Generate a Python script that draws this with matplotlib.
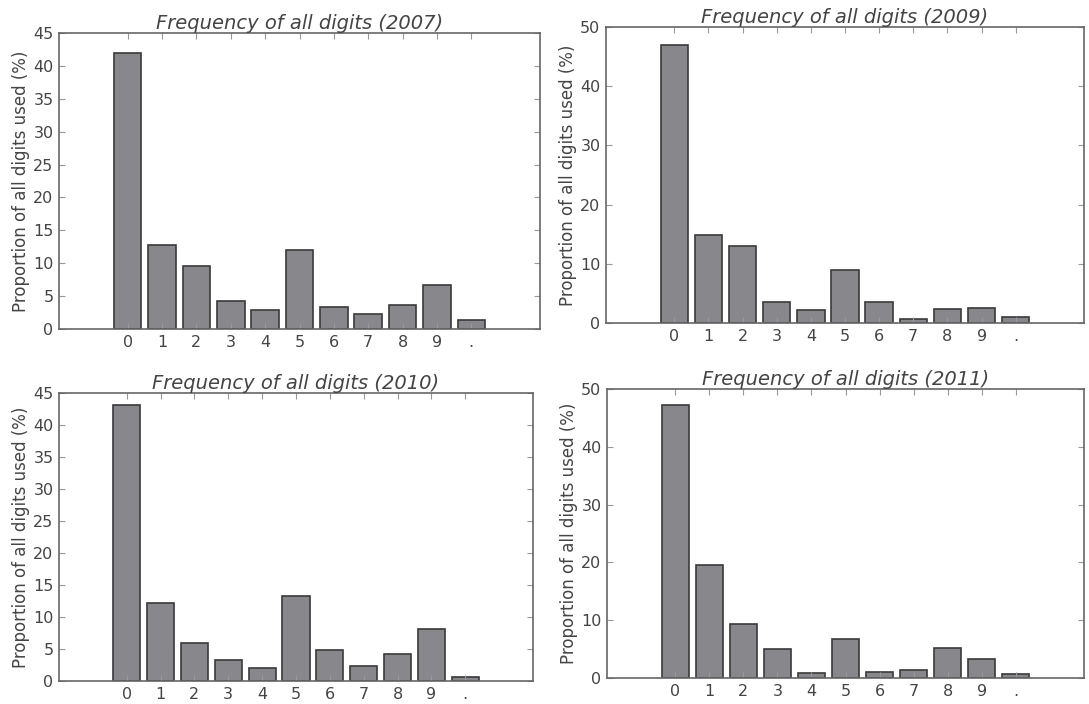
import matplotlib
matplotlib.use("Agg")
import matplotlib.pyplot as plt
import numpy as np

categories = ["0", "1", "2", "3", "4", "5", "6", "7", "8", "9", "."]
years = ["2007", "2009", "2010", "2011"]
vals_2007 = [41.9, 12.8, 9.6, 4.3, 2.9, 12.0, 3.4, 2.3, 3.6, 6.7, 1.35]
vals_2009 = [46.9, 14.8, 12.95, 3.5, 2.2, 8.9, 3.5, 0.6, 2.35, 2.5, 1.05]
vals_2010 = [43.2, 12.2, 6.0, 3.25, 2.0, 13.3, 4.8, 2.4, 4.15, 8.2, 0.7]
vals_2011 = [47.2, 19.55, 9.4, 5.05, 0.85, 6.75, 1.1, 1.3, 5.2, 3.3, 0.7]
y_max = [45, 50, 45, 50]
y_step = [5, 10, 5, 10]

W, H = 1089, 704
fig = plt.figure(figsize=(W / 100, H / 100), dpi=100)

# pixel boxes (left, top, right, bottom)
boxes = [(59, 33, 540, 329), (606, 27, 1084, 323),
         (59, 393, 533, 681), (607, 389, 1084, 678)]
series = [vals_2007, vals_2009, vals_2010, vals_2011]

txt = "#444444"
spine_c = "#666666"
for (l, t, r, b), yr, vals, ym, st in zip(boxes, years, series, y_max, y_step):
    ax = fig.add_axes([l / W, 1 - b / H, (r - l) / W, (b - t) / H])
    x = np.arange(len(categories))
    ax.bar(x, vals, width=0.8, color="#88888c", edgecolor="#3a3a3a", linewidth=1.2)
    ax.set_xlim(-2, 12)
    ax.set_ylim(0, ym)
    ax.set_xticks(x)
    ax.set_xticklabels(categories)
    ax.set_yticks(np.arange(0, ym + 1, st))
    ax.tick_params(direction="in", top=True, right=True, length=4, width=0.8,
                   colors="#999999", labelcolor=txt, labelsize=11.5, pad=4)
    for s in ax.spines.values():
        s.set_color(spine_c)
        s.set_linewidth(1.2)
    ax.set_ylabel("Proportion of all digits used (%)", fontsize=12, color=txt, labelpad=2)
    ax.set_title("Frequency of all digits (%s)" % yr, fontsize=14, style="italic",
                 color=txt, pad=3)

fig.savefig("out.png", dpi=100)
